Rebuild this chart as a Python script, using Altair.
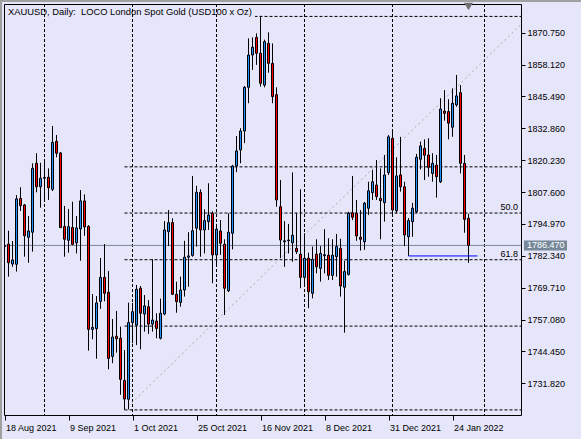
import altair as alt
import pandas as pd

# ---------------- data ----------------
opens = [1786.0, 1787.0, 1779.1, 1779.0, 1805.1, 1802.5, 1789.7, 1791.7, 1819.0, 1809.7,
         1813.1, 1813.5, 1808.7, 1827.7, 1823.1, 1794.0, 1788.5, 1793.6, 1787.5, 1793.0,
         1804.1, 1794.0, 1753.2, 1753.5, 1764.3, 1773.8, 1767.9, 1742.5, 1750.5, 1749.7,
         1733.0, 1725.5, 1755.9, 1754.9, 1769.5, 1759.3, 1762.2, 1755.3, 1756.5, 1749.7,
         1759.3, 1791.9, 1795.5, 1767.1, 1763.9, 1768.8, 1781.8, 1782.5, 1793.3, 1807.5,
         1792.6, 1795.9, 1799.2, 1782.7, 1792.2, 1786.9, 1768.5, 1791.3, 1817.9, 1824.3,
         1831.8, 1849.1, 1861.9, 1868.9, 1862.6, 1850.0, 1866.5, 1858.6, 1846.2, 1801.8,
         1787.9, 1788.3, 1787.5, 1785.3, 1783.0, 1773.8, 1781.4, 1767.5, 1783.0, 1777.4,
         1782.4, 1782.6, 1774.6, 1782.0, 1785.3, 1769.9, 1775.0, 1799.4, 1799.2, 1789.7,
         1787.9, 1801.2, 1807.4, 1810.4, 1805.1, 1803.4, 1815.3, 1828.9, 1800.2, 1814.4,
         1809.7, 1789.9, 1795.9, 1799.8, 1820.6, 1824.9, 1822.3, 1815.0, 1818.3, 1811.7,
         1839.7, 1839.5, 1833.3, 1842.1, 1847.0, 1819.0, 1797.2]
highs = [1787.0, 1792.3, 1788.2, 1806.4, 1809.5, 1802.9, 1798.1, 1819.0, 1823.0, 1819.2,
         1819.5, 1817.0, 1833.8, 1830.2, 1823.5, 1802.1, 1800.9, 1803.8, 1798.1, 1808.4,
         1806.7, 1794.5, 1767.2, 1766.4, 1781.5, 1787.0, 1776.3, 1757.3, 1760.5, 1754.3,
         1745.0, 1763.8, 1763.7, 1770.8, 1770.4, 1766.8, 1764.8, 1781.0, 1759.6, 1765.4,
         1796.1, 1800.5, 1797.2, 1772.1, 1774.1, 1788.3, 1791.7, 1814.0, 1810.1, 1808.7,
         1800.8, 1811.1, 1800.0, 1795.0, 1796.5, 1788.9, 1799.2, 1818.4, 1829.8, 1832.9,
         1849.6, 1868.5, 1868.9, 1870.5, 1877.4, 1868.0, 1870.9, 1866.5, 1849.1, 1812.4,
         1796.1, 1795.0, 1815.4, 1799.2, 1808.7, 1791.3, 1783.6, 1786.0, 1788.9, 1786.2,
         1792.9, 1789.3, 1788.9, 1791.0, 1789.1, 1780.4, 1799.8, 1814.0, 1804.5, 1800.5,
         1803.7, 1811.7, 1816.4, 1820.3, 1817.0, 1822.3, 1830.2, 1831.9, 1821.4, 1829.5,
         1811.7, 1797.3, 1803.3, 1822.7, 1827.6, 1828.5, 1828.9, 1823.0, 1822.3, 1844.8,
         1848.0, 1844.4, 1848.7, 1854.0, 1850.0, 1822.3, 1799.0]
lows = [1785.5, 1774.1, 1778.0, 1776.1, 1800.1, 1782.0, 1779.6, 1784.0, 1807.5, 1801.4,
        1804.5, 1804.5, 1808.0, 1821.4, 1793.4, 1782.0, 1783.6, 1786.5, 1783.3, 1780.4,
        1790.3, 1744.8, 1749.3, 1741.6, 1761.3, 1764.3, 1737.4, 1739.8, 1744.0, 1727.3,
        1721.3, 1721.5, 1747.7, 1747.0, 1745.3, 1752.3, 1751.4, 1752.3, 1749.7, 1749.2,
        1758.8, 1786.2, 1766.8, 1759.8, 1762.2, 1766.2, 1770.1, 1782.0, 1786.0, 1782.0,
        1783.3, 1792.6, 1771.5, 1778.0, 1782.7, 1758.9, 1768.0, 1784.9, 1815.5, 1819.0,
        1827.0, 1842.8, 1856.0, 1858.0, 1849.4, 1849.1, 1854.9, 1842.8, 1801.8, 1781.4,
        1778.0, 1783.3, 1780.0, 1783.1, 1769.5, 1770.1, 1761.6, 1765.5, 1775.4, 1772.1,
        1775.4, 1772.8, 1772.8, 1774.1, 1766.2, 1751.9, 1774.5, 1796.5, 1788.3, 1784.4,
        1784.7, 1798.5, 1804.5, 1804.5, 1788.9, 1795.9, 1814.4, 1797.8, 1799.2, 1807.8,
        1786.2, 1782.3, 1789.9, 1799.3, 1816.6, 1812.4, 1813.7, 1811.7, 1805.4, 1811.2,
        1835.9, 1828.5, 1829.5, 1841.4, 1815.0, 1791.5, 1779.6]
closes = [1786.4, 1779.6, 1780.7, 1804.9, 1802.2, 1790.3, 1792.2, 1817.0, 1809.7, 1813.1,
          1813.4, 1809.3, 1827.3, 1823.0, 1793.5, 1788.9, 1793.9, 1786.9, 1793.4, 1804.1,
          1793.8, 1753.2, 1754.0, 1763.7, 1773.8, 1767.5, 1741.7, 1750.2, 1749.5, 1733.4,
          1725.6, 1755.9, 1760.2, 1769.1, 1759.6, 1762.5, 1755.3, 1756.9, 1753.6, 1759.6,
          1792.6, 1795.5, 1767.1, 1764.2, 1768.8, 1781.8, 1782.3, 1792.3, 1807.5, 1792.6,
          1796.3, 1798.5, 1782.7, 1792.9, 1787.3, 1769.5, 1791.7, 1817.9, 1823.9, 1831.8,
          1849.1, 1861.9, 1865.0, 1862.6, 1850.7, 1867.2, 1858.6, 1845.4, 1804.5, 1788.6,
          1788.3, 1788.6, 1790.5, 1784.0, 1773.8, 1781.4, 1768.1, 1781.0, 1778.0, 1783.3,
          1782.8, 1774.6, 1782.6, 1786.0, 1770.4, 1776.1, 1799.2, 1797.6, 1790.2, 1788.9,
          1803.2, 1808.1, 1811.7, 1805.8, 1804.2, 1814.4, 1829.5, 1800.5, 1814.0, 1809.7,
          1790.6, 1796.3, 1801.2, 1821.4, 1825.9, 1822.2, 1817.4, 1819.0, 1813.7, 1840.5,
          1838.8, 1834.9, 1842.8, 1845.7, 1819.0, 1796.8, 1786.5]

date_bars = [0, 16, 32, 48, 64, 80, 96, 112]
date_labels = ["18 Aug 2021", "9 Sep 2021", "1 Oct 2021", "25 Oct 2021",
               "16 Nov 2021", "8 Dec 2021", "31 Dec 2021", "24 Jan 2022"]
price_ticks = [1870.75, 1858.12, 1845.49, 1832.86, 1820.23, 1807.60,
               1794.97, 1782.34, 1769.71, 1757.08, 1744.45, 1731.82]
grid_bars = [10, 32, 53, 75, 97, 120]
fib_prices = [1877.2, 1817.6, 1799.3, 1780.8, 1754.5, 1721.3]
fib_start_bar = 30
fib_label_text = ["50.0", "61.8"]
fib_label_prices = [1799.3, 1780.8]
trend_bars = [30, 131.2]
trend_prices = [1721.3, 1877.2]
support_bars = [101, 118.25]
support_price = 1782.3
last_price = 1786.47
title_text = "XAUUSD, Daily: \u00a0LOCO London Spot Gold (USD100 x Oz)"

# ---------------- style ----------------
BG = "#E6E6FA"
BULL = "#1E90FF"
BEAR = "#FF0000"
FONT = "Liberation Sans"
X_MIN, X_MAX = -0.125, 129.125
Y_MIN, Y_MAX = 1719.28, 1882.12
W, H = 517, 411

xs = alt.Scale(domain=[X_MIN, X_MAX], nice=False, zero=False)
ys = alt.Scale(domain=[Y_MIN, Y_MAX], nice=False, zero=False)

n = len(opens)
candles = pd.DataFrame({"i": list(range(n)), "o": opens, "h": highs, "l": lows, "c": closes})
candles["dir"] = ["up" if c >= o else "down" for o, c in zip(opens, closes)]
candles["xl"] = candles["i"] - 0.25
candles["xr"] = candles["i"] + 0.25

fib_df = pd.DataFrame({"p": fib_prices, "s": [fib_start_bar] * len(fib_prices),
                       "e": [X_MAX] * len(fib_prices)})
grid_df = pd.DataFrame({"g": grid_bars})
trend_df = pd.DataFrame({"x1": [trend_bars[0]], "x2": [trend_bars[1]],
                         "y1": [trend_prices[0]], "y2": [trend_prices[1]]})
support_df = pd.DataFrame({"x1": [support_bars[0]], "x2": [support_bars[1]], "p": [support_price]})
last_df = pd.DataFrame({"p": [last_price], "t": [f"{last_price:.3f}"]})
fib_lab_df = pd.DataFrame({"p": fib_label_prices, "t": fib_label_text})
title_df = pd.DataFrame({"t": [title_text]})
shift_df = pd.DataFrame({"i": [n - 1]})

label_expr = " : ".join(f"datum.value == {b} ? '{t}'" for b, t in zip(date_bars, date_labels)) + " : ''"

x_axis = alt.Axis(orient="bottom", values=date_bars, labelExpr=label_expr, labelAlign="left",
                  labelBaseline="top", domain=False, grid=False, ticks=True, tickColor="black",
                  tickSize=5, labelPadding=3, labelOffset=1, labelFlush=False,
                  labelOverlap=False, labelBound=False, title=None,
                  labelFont=FONT, labelFontSize=9, labelColor="black")
y_axis = alt.Axis(orient="right", values=price_ticks, format=".3f", domain=False, grid=False,
                  ticks=True, tickColor="black", tickSize=4, labelPadding=2, title=None,
                  labelFont=FONT, labelFontSize=9, labelColor="black", labelOverlap=False,
                  labelBound=False, labelFlush=False)


def X(field):
    return alt.X(field, scale=xs, axis=x_axis)


def Y(field):
    return alt.Y(field, scale=ys, axis=y_axis)


fib_lines = alt.Chart(fib_df).mark_rule(color="black", strokeWidth=1, strokeDash=[3, 2], clip=True).encode(
    x=X("s:Q"), x2="e:Q", y=Y("p:Q"))

title_bg = alt.Chart(title_df).mark_rect(color=BG).encode(
    x=alt.value(1), x2=alt.value(251), y=alt.value(1), y2=alt.value(14))

vgrid = alt.Chart(grid_df).mark_rule(color="black", strokeWidth=1, strokeDash=[3, 2]).encode(
    x=X("g:Q"))

trend = alt.Chart(trend_df).mark_rule(color="#A9A9A9", strokeWidth=1, strokeDash=[2, 3], clip=True).encode(
    x=X("x1:Q"), x2="x2:Q", y=Y("y1:Q"), y2="y2:Q")

last_line = alt.Chart(last_df).mark_rule(color="#778899", strokeWidth=1).encode(
    y=Y("p:Q"))

wicks = alt.Chart(candles).mark_rule(color="black", strokeWidth=1, clip=True).encode(
    x=X("i:Q"), y=Y("l:Q"), y2="h:Q")

bodies = alt.Chart(candles).mark_rect(stroke="black", strokeWidth=1, clip=True).encode(
    x=X("xl:Q"), x2="xr:Q", y=Y("o:Q"), y2="c:Q",
    fill=alt.Fill("dir:N", scale=alt.Scale(domain=["up", "down"], range=[BULL, BEAR]), legend=None))

support = alt.Chart(support_df).mark_rule(color="#0000FF", strokeWidth=1).encode(
    x=X("x1:Q"), x2="x2:Q", y=Y("p:Q"))

fib_labels = alt.Chart(fib_lab_df).mark_text(align="right", baseline="alphabetic", dy=-3,
                                              font=FONT, fontSize=9, color="black").encode(
    x=alt.value(514), y=Y("p:Q"), text="t:N")

price_box = alt.Chart(last_df).mark_rule(color="#778899", strokeWidth=10, strokeCap="butt").encode(
    x=alt.value(520), x2=alt.value(563), y=Y("p:Q"))

price_text = alt.Chart(last_df).mark_text(align="left", baseline="middle", font=FONT, fontSize=9,
                                          color="white").encode(
    x=alt.value(523), y=Y("p:Q"), text="t:N")

title = alt.Chart(title_df).mark_text(align="left", baseline="middle", font=FONT, fontSize=9.4,
                                      color="black").encode(
    x=alt.value(4), y=alt.value(7.5), text="t:N")

shift_marker = alt.Chart(shift_df).mark_point(shape="triangle-down", filled=True, color="#707070",
                                              size=80, opacity=1).encode(
    x=X("i:Q"), y=alt.value(2.5))

chrome_left = alt.Chart(title_df).mark_rect(color="#A0A0A0").encode(
    x=alt.value(-4), x2=alt.value(-2), y=alt.value(-4), y2=alt.value(435))
chrome_top = alt.Chart(title_df).mark_rect(color="#A0A0A0").encode(
    x=alt.value(-4), x2=alt.value(577), y=alt.value(-4), y2=alt.value(-2))

chart = alt.layer(
    fib_lines, title_bg, vgrid, trend, last_line, wicks, bodies, support,
    fib_labels, price_box, price_text, title, shift_marker, chrome_left, chrome_top
).properties(
    width=W, height=H,
    padding={"left": 4, "top": 4, "right": 60, "bottom": 24},
    autosize=alt.AutoSizeParams(type="none"),
    background=BG,
).configure_view(
    fill=BG, stroke="black", strokeWidth=1
)

chart.save("out.html", embed_options={"renderer": "svg", "actions": False})
